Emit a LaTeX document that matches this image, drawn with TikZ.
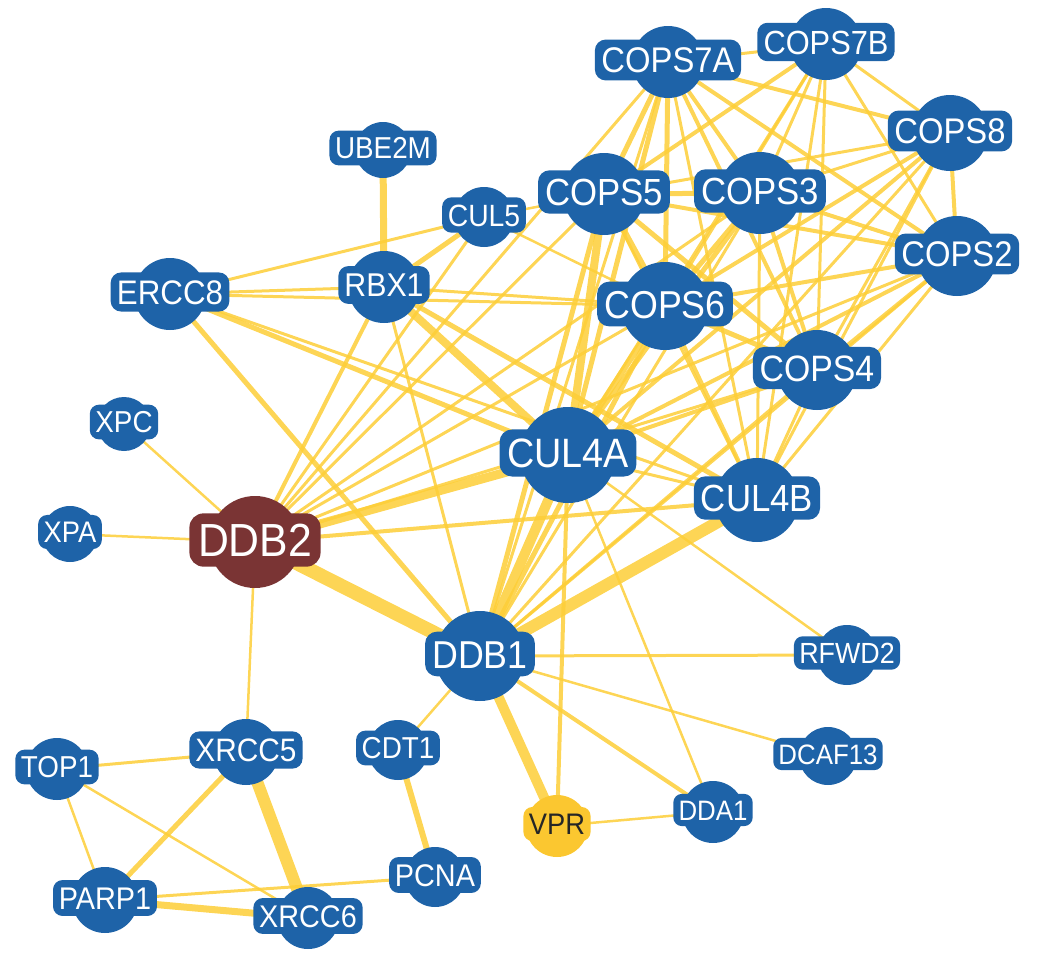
\documentclass[tikz,border=0pt]{standalone}
\usepackage{fontspec}
\setmainfont{Liberation Sans}[FakeStretch=0.92]
\definecolor{gblue}{RGB}{30,99,168}
\definecolor{gbrown}{RGB}{122,52,52}
\definecolor{ggold}{RGB}{251,199,48}
\definecolor{gedge}{RGB}{253,206,55}
\pgfdeclarelayer{edges}
\pgfsetlayers{edges,main}
\tikzset{
  gcirc/.style={circle, fill=#1, draw=none, inner sep=0pt},
  glab/.style={rectangle, fill=#1, draw=none, text depth=0pt},
  lnkstyle/.style={draw=gedge, draw opacity=0.85, line cap=round}
}
\newcommand\gfont[1]{\pgfmathsetmacro\gfs{1.08*#1}\fontsize{\gfs}{\gfs}\selectfont}
\newcommand\gene[8]{%
  \node[gcirc=#7, minimum size={2*#4}] (#1) at (#2,#3) {};
  \node[glab=#7, text=#8, font=\gfont{#5},
    text height={0.78*#5}, inner xsep={0.2*#5}, inner ysep={0.23*#5},
    rounded corners={0.33*#5}] (#1-t) at (#2,#3-2) {#6};}
\newcommand\lnk[3]{\draw[lnkstyle, line width=#3pt] (#1.center) -- (#2.center);}
\begin{document}
\begin{tikzpicture}[x=1pt,y=-1pt]
\useasboundingbox (0,0) rectangle (1050,961);
% nodes
\gene{cops7a}{668}{62}{36}{33}{COPS7A}{gblue}{white}
\gene{cops7b}{826}{44}{36}{31}{COPS7B}{gblue}{white}
\gene{cops8}{950}{133}{38}{33}{COPS8}{gblue}{white}
\gene{cops2}{957}{256}{40}{33}{COPS2}{gblue}{white}
\gene{cops5}{604}{194}{41}{35}{COPS5}{gblue}{white}
\gene{cops3}{760}{193}{41}{35}{COPS3}{gblue}{white}
\gene{cops6}{665}{306}{44}{36}{COPS6}{gblue}{white}
\gene{cops4}{817}{370}{40}{34}{COPS4}{gblue}{white}
\gene{cul4a}{568}{455}{48}{38}{CUL4A}{gblue}{white}
\gene{cul4b}{757}{500}{42}{35}{CUL4B}{gblue}{white}
\gene{ddb1}{480}{656}{45}{36}{DDB1}{gblue}{white}
\gene{ddb2}{255}{542}{46}{43}{DDB2}{gbrown}{white}
\gene{ube2m}{383}{150}{28}{28}{UBE2M}{gblue}{white}
\gene{cul5}{484}{217}{30}{28.5}{CUL5}{gblue}{white}
\gene{rbx1}{384}{287}{36}{30.5}{RBX1}{gblue}{white}
\gene{ercc8}{170}{294}{36}{31.5}{ERCC8}{gblue}{white}
\gene{xpc}{124}{424}{27}{28}{XPC}{gblue}{white}
\gene{xpa}{70}{534}{28}{27.5}{XPA}{gblue}{white}
\gene{top1}{57}{769}{31}{28}{TOP1}{gblue}{white}
\gene{xrcc5}{246}{752}{33}{30}{XRCC5}{gblue}{white}
\gene{cdt1}{398}{750}{30}{28}{CDT1}{gblue}{white}
\gene{parp1}{105}{900}{33}{29}{PARP1}{gblue}{white}
\gene{xrcc6}{308}{918}{31}{29}{XRCC6}{gblue}{white}
\gene{pcna}{435}{877}{30}{29}{PCNA}{gblue}{white}
\gene{rfwd2}{847}{655}{30}{27}{RFWD2}{gblue}{white}
\gene{dcaf13}{828}{756}{29}{26}{DCAF13}{gblue}{white}
\gene{dda1}{713}{812}{31}{26}{DDA1}{gblue}{white}
\gene{vpr}{557}{826}{31}{27.5}{VPR}{ggold}{black!85}
% edges
\begin{pgfonlayer}{edges}
\lnk{xpc}{ddb2}{2.5}
\lnk{xpa}{ddb2}{2.5}
\lnk{ube2m}{rbx1}{7}
\lnk{top1}{xrcc5}{3}
\lnk{top1}{parp1}{2.5}
\lnk{top1}{xrcc6}{2.5}
\lnk{xrcc5}{parp1}{5}
\lnk{xrcc5}{xrcc6}{12}
\lnk{parp1}{xrcc6}{7}
\lnk{parp1}{pcna}{3}
\lnk{cdt1}{pcna}{6}
\lnk{cdt1}{ddb1}{2.5}
\lnk{xrcc5}{ddb2}{2.5}
\lnk{vpr}{ddb1}{10}
\lnk{vpr}{cul4a}{4}
\lnk{vpr}{dda1}{2.5}
\lnk{dda1}{ddb1}{4}
\lnk{dda1}{cul4a}{2.5}
\lnk{dcaf13}{ddb1}{2.5}
\lnk{rfwd2}{ddb1}{3}
\lnk{rfwd2}{cul4a}{2.5}
% DDB2
\lnk{ddb2}{ddb1}{14}
\lnk{ddb2}{cul4a}{9}
\lnk{ddb2}{cul4b}{4}
\lnk{ddb2}{rbx1}{4}
\lnk{ddb2}{cul5}{3}
\lnk{ddb2}{cops5}{3}
\lnk{ddb2}{cops7a}{3}
\lnk{ddb2}{cops6}{3}
\lnk{ddb2}{cops3}{3}
\lnk{ddb2}{cops2}{3}
\lnk{ddb2}{cops4}{3}
% DDB1
\lnk{ddb1}{cul4a}{10}
\lnk{ddb1}{cul4b}{12}
\lnk{ddb1}{rbx1}{3}
\lnk{ddb1}{ercc8}{5}
\lnk{ddb1}{cops5}{5}
\lnk{ddb1}{cops6}{5}
\lnk{ddb1}{cops3}{3}
\lnk{ddb1}{cops7a}{3}
\lnk{ddb1}{cops8}{3}
\lnk{ddb1}{cops2}{3}
\lnk{ddb1}{cops4}{3}
% ERCC8
\lnk{ercc8}{rbx1}{3}
\lnk{ercc8}{cul5}{3}
\lnk{ercc8}{cops6}{3}
\lnk{ercc8}{cul4a}{5}
\lnk{ercc8}{cul4b}{3}
% RBX1
\lnk{rbx1}{cul5}{5}
\lnk{rbx1}{cul4a}{8}
\lnk{rbx1}{cul4b}{5}
\lnk{rbx1}{cops6}{3}
% CUL5
\lnk{cul5}{cops5}{2.5}
\lnk{cul5}{cops6}{2.5}
% CUL4A
\lnk{cul4a}{cul4b}{3}
\lnk{cul4a}{cops5}{8}
\lnk{cul4a}{cops6}{6}
\lnk{cul4a}{cops3}{5}
\lnk{cul4a}{cops7a}{5}
\lnk{cul4a}{cops7b}{3}
\lnk{cul4a}{cops8}{4}
\lnk{cul4a}{cops2}{4}
\lnk{cul4a}{cops4}{4}
% CUL4B
\lnk{cul4b}{cops5}{3}
\lnk{cul4b}{cops6}{4}
\lnk{cul4b}{cops3}{3}
\lnk{cul4b}{cops7a}{3}
\lnk{cul4b}{cops7b}{3}
\lnk{cul4b}{cops8}{3}
\lnk{cul4b}{cops2}{3}
\lnk{cul4b}{cops4}{3}
% COPS clique
\lnk{cops7a}{cops5}{5}
\lnk{cops7a}{cops6}{5}
\lnk{cops7a}{cops3}{4}
\lnk{cops7a}{cops4}{4}
\lnk{cops7a}{cops2}{4}
\lnk{cops7a}{cops8}{4}
\lnk{cops7a}{cops7b}{3}
\lnk{cops7b}{cops5}{4}
\lnk{cops7b}{cops3}{3}
\lnk{cops7b}{cops6}{3}
\lnk{cops7b}{cops8}{3}
\lnk{cops7b}{cops2}{3}
\lnk{cops7b}{cops4}{3}
\lnk{cops5}{cops3}{5}
\lnk{cops5}{cops6}{6}
\lnk{cops5}{cops8}{3}
\lnk{cops5}{cops2}{4}
\lnk{cops5}{cops4}{5}
\lnk{cops3}{cops6}{5}
\lnk{cops3}{cops8}{3}
\lnk{cops3}{cops2}{4}
\lnk{cops3}{cops4}{4}
\lnk{cops6}{cops8}{4}
\lnk{cops6}{cops2}{4}
\lnk{cops6}{cops4}{5}
\lnk{cops8}{cops2}{4}
\lnk{cops8}{cops4}{3}
\lnk{cops2}{cops4}{4}
\end{pgfonlayer}
\end{tikzpicture}
\end{document}
